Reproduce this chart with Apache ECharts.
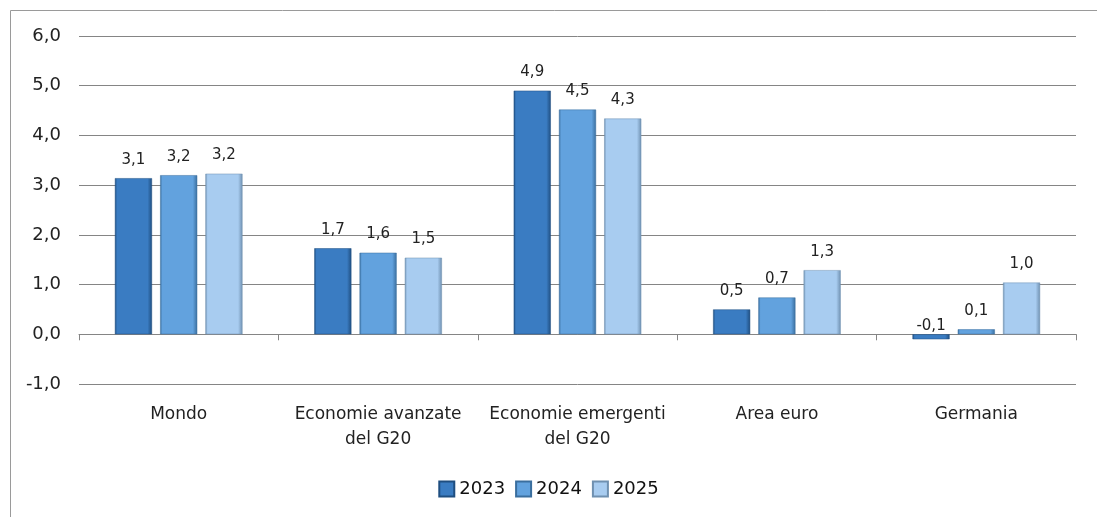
<!DOCTYPE html>
<html><head><meta charset="utf-8">
<script src="https://cdn.jsdelivr.net/npm/echarts@6/dist/echarts.min.js"></script>
<style>html,body{margin:0;padding:0;background:#fff}#c{width:1097px;height:517px}</style>
</head><body><div id="c"></div>
<script>
const categories = ['Mondo', 'Economie avanzate\ndel G20', 'Economie emergenti\ndel G20', 'Area euro', 'Germania'];
const seriesNames = ['2023', '2024', '2025'];
const values2023 = [3.14, 1.73, 4.90, 0.50, -0.10];
const values2024 = [3.20, 1.64, 4.52, 0.74, 0.10];
const values2025 = [3.23, 1.54, 4.34, 1.29, 1.04];
const yTicks = [-1, 0, 1, 2, 3, 4, 5, 6];

const baseColors = ['#3A7CC2', '#62A2DE', '#A8CCF0'];
const edgeColors = ['#1F4E80', '#3A6E9E', '#6F90B0'];
function grad(i) {
  return new echarts.graphic.LinearGradient(0, 0, 1, 0, [
    {offset: 0, color: edgeColors[i]},
    {offset: 0.06, color: baseColors[i]},
    {offset: 0.88, color: baseColors[i]},
    {offset: 1, color: edgeColors[i]}
  ]);
}
const fmt = v => (Math.round(v * 10) / 10).toFixed(1).replace('.', ',');
const FONT = 'DejaVu Sans';
const allData = [values2023, values2024, values2025];

const chart = echarts.init(document.getElementById('c'));
chart.setOption({
  animation: false,
  textStyle: {fontFamily: FONT},
  grid: {left: 79, right: 21, top: 36, bottom: 133},
  graphic: [{type: 'rect', shape: {x: 10.5, y: 10.5, width: 1200, height: 600}, style: {fill: 'none', stroke: '#9a9a9a', lineWidth: 1}, silent: true}],
  legend: {
    data: seriesNames, bottom: 14, left: 'center', icon: 'rect', itemWidth: 15, itemHeight: 15, itemGap: 10,
    textStyle: {fontFamily: FONT, fontSize: 18, color: '#111'}
  },
  xAxis: [{
    type: 'category', data: categories,
    axisLine: {onZero: true, lineStyle: {color: '#858585', width: 1}},
    axisTick: {show: true, length: 6, lineStyle: {color: '#858585'}},
    axisLabel: {show: false}
  }, {
    type: 'category', data: categories, position: 'bottom',
    axisLine: {show: false, onZero: false}, axisTick: {show: false},
    axisLabel: {interval: 0, fontFamily: FONT, fontSize: 17, color: '#222', margin: 18, lineHeight: 25}
  }],
  yAxis: {
    type: 'value', min: -1, max: 6, interval: 1,
    axisLine: {show: false}, axisTick: {show: false},
    axisLabel: {fontFamily: FONT, fontSize: 18, color: '#222', margin: 18, formatter: v => yTicks.includes(v) ? v.toFixed(1).replace('.', ',') : ''},
    splitLine: {lineStyle: {color: '#858585', width: 1}}
  },
  series: seriesNames.map((n, i) => ({
    name: n, type: 'bar', xAxisIndex: 0,
    data: allData[i].map(v => v < 0 ? {value: v, label: {distance: 1}} : v),
    barWidth: '18.6%', barGap: '22%',
    itemStyle: {color: grad(i), borderColor: edgeColors[i], borderWidth: 0.5},
    label: {show: true, position: 'top', distance: 11, fontFamily: FONT, fontSize: 15, color: '#222', formatter: p => fmt(p.value)}
  }))
});
</script></body></html>
